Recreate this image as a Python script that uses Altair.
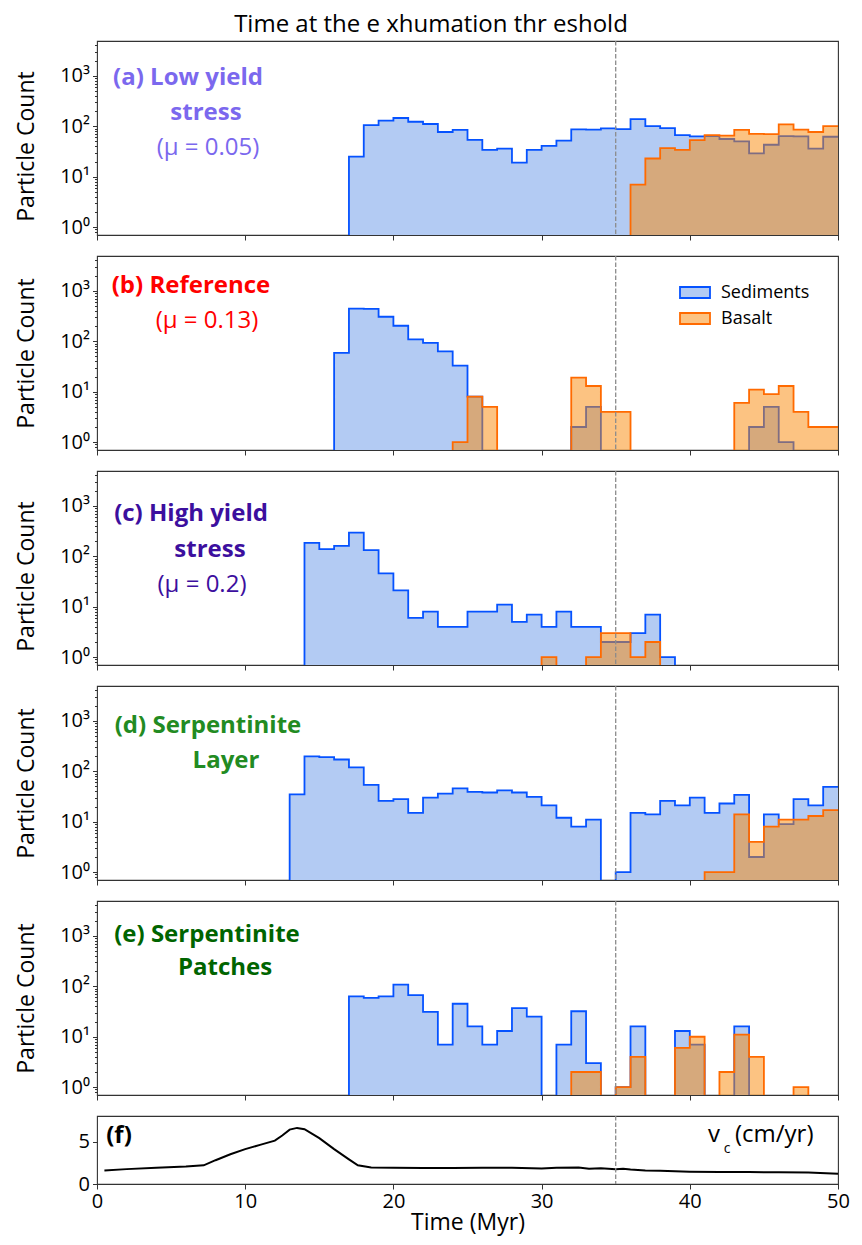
import altair as alt
import pandas as pd

# ---------------------------------------------------------------------------
# Particle counts per 1-Myr bin (first bin index, then consecutive counts)
# ---------------------------------------------------------------------------
a_sed_start = 17
a_sed = [25, 105, 129, 146, 123, 111, 77, 85, 54, 34, 36, 19, 34, 41, 52, 87, 86,
         91, 88, 139, 101, 92, 67, 63, 64, 56, 50, 29, 43, 64, 63, 36, 62]
a_bas_start = 36
a_bas = [7, 23, 37, 34, 53, 67, 65, 85, 71, 70, 109, 86, 77, 101]

b_sed_start = 16
b_sed = [59, 445, 440, 306, 203, 109, 93, 63, 33, 8, 0, 0, 0, 0, 0, 0, 2, 5,
         0, 0, 0, 0, 0, 0, 0, 0, 0, 0, 2, 5, 1]
b_bas_start = 24
b_bas = [1, 8, 5, 0, 0, 0, 0, 0, 19, 13, 4, 4, 0, 0, 0, 0, 0, 0, 0, 6, 11, 9, 13,
         4, 2, 2]

c_sed_start = 14
c_sed = [185, 138, 161, 293, 132, 46, 21, 6, 8, 4, 4, 8, 8, 11, 5, 7, 4, 8, 4, 4,
         2, 2, 3, 7, 1]
c_bas_start = 30
c_bas = [1, 0, 0, 1, 3, 3, 1, 2]

d_sed_start = 13
d_sed = [35, 197, 191, 171, 119, 54, 26, 28, 15, 30, 36, 46, 39, 38, 42, 38, 31,
         21, 12, 8, 11, 0, 1, 15, 14, 26, 21, 30, 15, 23, 34, 2, 14, 9, 28, 21, 49]
d_bas_start = 41
d_bas = [1, 1, 14, 4, 8, 11, 11, 13, 17]

e_sed_start = 17
e_sed = [63, 59, 63, 108, 67, 31, 7, 45, 16, 7, 13, 37, 25, 0, 7, 32, 3, 0, 1, 16,
         0, 0, 13, 7, 0, 0, 16]
e_bas_start = 32
e_bas = [2, 2, 0, 1, 4, 0, 0, 6, 10, 0, 2, 11, 4, 0, 0, 1]

# Convergence velocity (cm/yr) through time (Myr)
vc_time = [0.5, 2, 4, 6, 7.2, 8, 9, 10, 11, 12, 12.5, 13, 13.5, 14, 15, 16, 17,
           17.6, 18.5, 20, 22, 24, 26, 28, 30, 31, 32.5, 33.2, 34, 35, 35.5, 36,
           37, 38, 40, 42, 44, 46, 48, 50]
vc_value = [1.6, 1.75, 1.9, 2.05, 2.2, 2.8, 3.5, 4.1, 4.6, 5.1, 5.7, 6.4, 6.6,
            6.45, 5.4, 4.1, 2.9, 2.2, 1.95, 1.9, 1.88, 1.87, 1.9, 1.92, 1.82, 1.9,
            1.95, 1.8, 1.85, 1.75, 1.8, 1.7, 1.6, 1.55, 1.45, 1.42, 1.4, 1.38,
            1.35, 1.22]

# ---------------------------------------------------------------------------
FONT = "Open Sans"
N_BINS = 50
W, H, HF = 741, 194, 68
YMIN, YMAX = 0.7, 4900
FLOOR = 0.01          # empty bins sit below the visible log range

BLUE_FILL = "#b3cbf3"
BLUE_LINE = "#0552ff"
ORANGE_FILL = "#fa8805"
ORANGE_LINE = "#ff6a00"
DASH_GREY = "#8c8c8c"

YTICKS = ([0.8, 0.9] + [m * 10 ** k for k in range(0, 3) for m in range(1, 10)]
          + [1000, 2000, 3000, 4000])
YLABEL = ("datum.value == 1 ? '10\u2070' : datum.value == 10 ? '10\u00b9' : "
          "datum.value == 100 ? '10\u00b2' : datum.value == 1000 ? '10\u00b3' : ''")
MAJOR = "indexof([1, 10, 100, 1000], datum.value) >= 0"

one = pd.DataFrame({"k": [0]})


def step_frame(start, counts):
    full = [0] * N_BINS
    for i, c in enumerate(counts):
        full[start + i] = c
    vals = [c if c > 0 else FLOOR for c in full]
    vals.append(vals[-1])
    return pd.DataFrame({"t": list(range(N_BINS + 1)), "n": vals,
                         "base": [FLOOR] * (N_BINS + 1)})


x_hist = alt.X("t:Q", scale=alt.Scale(domain=[0, 50], nice=False),
               axis=alt.Axis(values=[0, 10, 20, 30, 40, 50], labels=False,
                             tickSize=5, domain=False, grid=False,
                             tickColor="#333333"),
               title=None)


def y_log(title_y):
    return alt.Y("n:Q",
                 scale=alt.Scale(type="log", domain=[YMIN, YMAX], nice=False),
                 axis=alt.Axis(values=YTICKS, labelExpr=YLABEL,
                               labelOverlap=False, labelFlush=False,
                               labelFont=FONT, labelFontSize=20,
                               labelColor="black", labelPadding=3,
                               tickSize={"condition": {"test": MAJOR, "value": 4.5},
                                         "value": 2.5},
                               tickColor="#333333", domain=False, grid=False,
                               title="Particle Count", titleFont=FONT,
                               titleFontSize=23, titleFontWeight="normal",
                               titleColor="black", titleAngle=270,
                               titleAlign="center", titleBaseline="middle",
                               titleX=-71, titleY=title_y))


def text(txt, x, y, color, size=24, bold=False, align="center",
         baseline="middle"):
    return alt.Chart(one).mark_text(
        text=txt, font=FONT, fontSize=size,
        fontWeight="bold" if bold else "normal", color=color,
        align=align, baseline=baseline,
    ).encode(x=alt.value(x), y=alt.value(y))


def hist_panel(sed_start, sed, bas_start, bas, labels, title_y, extra=()):
    y = y_log(title_y)
    sdf = step_frame(sed_start, sed)
    bdf = step_frame(bas_start, bas)
    layers = [
        alt.Chart(sdf).mark_area(interpolate="step-after", color=BLUE_FILL,
                                 opacity=1, clip=True)
        .encode(x=x_hist, y=y, y2="base:Q"),
        alt.Chart(sdf).mark_line(interpolate="step-after", color=BLUE_LINE,
                                 strokeWidth=1.8, clip=True).encode(x=x_hist, y=y),
        alt.Chart(bdf).mark_area(interpolate="step-after", color=ORANGE_FILL,
                                 opacity=0.5, clip=True)
        .encode(x=x_hist, y=y, y2="base:Q"),
        alt.Chart(bdf).mark_line(interpolate="step-after", color=ORANGE_LINE,
                                 strokeWidth=1.8, clip=True).encode(x=x_hist, y=y),
        alt.Chart(pd.DataFrame({"t": [35]})).mark_rule(
            color=DASH_GREY, strokeDash=[4.5, 2], strokeWidth=1.3).encode(x=x_hist),
    ]
    layers += [text(*lab) for lab in labels]
    layers += list(extra)
    return alt.layer(*layers).properties(width=W, height=H)


LOW = "#7b68ee"
REF = "#ff0000"
HIGH = "#3c0f9e"
LAYER = "#228b22"
PATCH = "#006400"

legend_b = [
    alt.Chart(one).mark_rect(fill=BLUE_FILL, stroke=BLUE_LINE, strokeWidth=1.8)
    .encode(x=alt.value(583), x2=alt.value(613), y=alt.value(31), y2=alt.value(42)),
    alt.Chart(one).mark_rect(fill=ORANGE_FILL, fillOpacity=0.5, stroke=ORANGE_LINE,
                             strokeWidth=1.8)
    .encode(x=alt.value(583), x2=alt.value(613), y=alt.value(57), y2=alt.value(68)),
    text("Sediments", 624, 37, "black", size=18, align="left"),
    text("Basalt", 624, 63, "black", size=18, align="left"),
]

# overall heading, centred on the figure rather than on the plot area
heading = [text("Time at the e xhumation thr eshold", 334, -9, "black", 24,
                False, baseline="alphabetic")]

pa = hist_panel(a_sed_start, a_sed, a_bas_start, a_bas, [
    ("(a) Low yield", 91, 37, LOW, 24, True),
    ("stress", 109, 72, LOW, 24, True),
    ("(\u03bc = 0.05)", 111, 107, LOW, 24, False),
], 105, heading)

pb = hist_panel(b_sed_start, b_sed, b_bas_start, b_bas, [
    ("(b) Reference", 94, 30, REF, 24, True),
    ("(\u03bc = 0.13)", 110, 65, REF, 24, False),
], 97, legend_b)

pc = hist_panel(c_sed_start, c_sed, c_bas_start, c_bas, [
    ("(c) High yield", 94, 43, HIGH, 24, True),
    ("stress", 113, 79, HIGH, 24, True),
    ("(\u03bc = 0.2)", 105, 114, HIGH, 24, False),
], 105)

pd_ = hist_panel(d_sed_start, d_sed, d_bas_start, d_bas, [
    ("(d) Serpentinite", 111, 40, LAYER, 24, True),
    ("Layer", 129, 75, LAYER, 24, True),
], 97)

pe = hist_panel(e_sed_start, e_sed, e_bas_start, e_bas, [
    ("(e) Serpentinite", 110, 34, PATCH, 24, True),
    ("Patches", 128, 67, PATCH, 24, True),
], 97)

# Convergence velocity panel
vdf = pd.DataFrame({"t": vc_time, "v": vc_value})
x_f = alt.X("t:Q", scale=alt.Scale(domain=[0, 50], nice=False),
            axis=alt.Axis(values=[0, 10, 20, 30, 40, 50], labelFont=FONT,
                          labelFontSize=20, labelColor="black", tickSize=5,
                          labelPadding=2, labelFlush=False, domain=False,
                          grid=False, tickColor="#333333", title="Time (Myr)",
                          titleFont=FONT, titleFontSize=23,
                          titleFontWeight="normal", titleColor="black",
                          titlePadding=0))
y_f = alt.Y("v:Q", scale=alt.Scale(domain=[0, 8], nice=False),
            axis=alt.Axis(values=[0, 5], labelFont=FONT, labelFontSize=20,
                          labelColor="black", tickSize=4.5, labelPadding=3,
                          labelFlush=False, domain=False, grid=False,
                          tickColor="#333333", title=None))
pf = alt.layer(
    alt.Chart(vdf).mark_line(color="black", strokeWidth=2).encode(x=x_f, y=y_f),
    alt.Chart(pd.DataFrame({"t": [35]})).mark_rule(
        color=DASH_GREY, strokeDash=[4.5, 2], strokeWidth=1.3).encode(x=x_f),
    text("(f)", 22, 20, "black", 24, True),
    text("v", 617, 19, "black", 24, False),
    text("c", 630, 33, "black", 14, False),
    text("(cm/yr)", 638, 19, "black", 24, False, align="left"),
).properties(width=W, height=HF)

chart = alt.vconcat(pa, pb, pc, pd_, pe, pf, spacing=21, bounds="flush").properties(
    padding={"left": 14, "top": 12, "right": 10, "bottom": 5},
).configure_view(stroke="#333333", strokeWidth=1.1)

chart.save("out.html", embed_options={"renderer": "svg", "actions": False})
